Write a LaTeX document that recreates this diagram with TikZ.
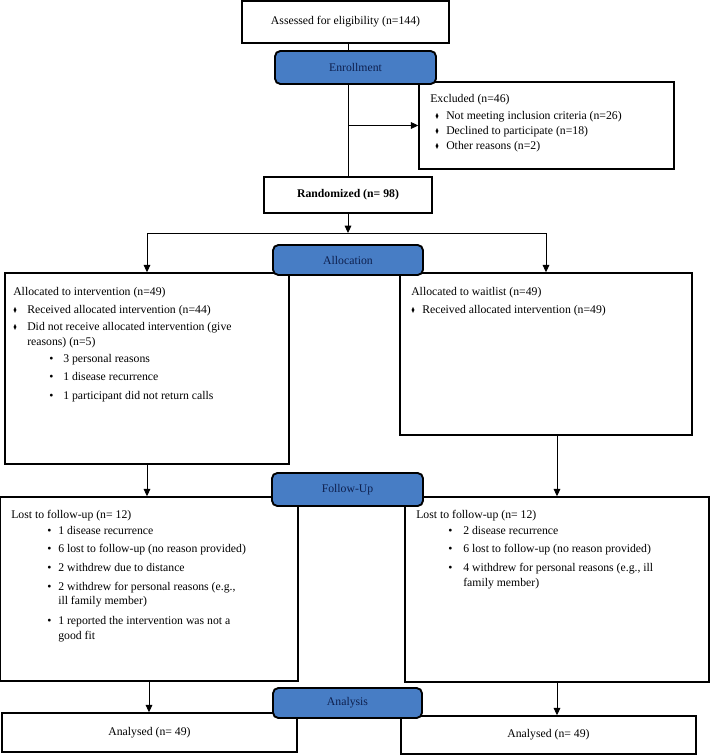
\documentclass[tikz,border=0pt]{standalone}
\usepackage{amssymb}
\usepackage{fontspec}
\setmainfont{Liberation Serif}
\usetikzlibrary{arrows.meta}
\definecolor{stageblue}{RGB}{71,125,197}
\definecolor{stagetext}{RGB}{14,32,78}
\newcommand{\dia}[1][8.25pt]{\makebox[#1][l]{\raisebox{0.6pt}{\scalebox{0.45}[0.6]{$\blacklozenge$}}}}
\newcommand{\bul}[2]{\hspace*{#1}\makebox[#2][l]{\textbullet}}

\begin{document}
\begin{tikzpicture}[x=0.75pt, y=-0.75pt,
    box/.style={draw, line width=1.1pt, inner sep=0pt, font=\fontsize{8.8}{11.25}\selectfont},
    stage/.style={draw, line width=1.4pt, rounded corners=4pt, fill=stageblue, text=stagetext,
                  inner sep=0pt, font=\fontsize{8.8}{11.25}\selectfont},
    txt/.style={anchor=north west, align=left, inner sep=0pt, font=\fontsize{8.8}{11.25}\selectfont},
    link/.style={line width=0.7pt},
    >={Triangle[length=5.5pt,width=5pt]}]
      \useasboundingbox (0,0) rectangle (711,755);

      \node [box, minimum width=155.25pt, minimum height=31.5pt] (assess) at (345.5,22) {Assessed for eligibility (n=144)};
      \node [box, minimum width=191.25pt, minimum height=65.25pt] (excl)   at (546.5,125.5) {};
      \node [box, minimum width=126pt,    minimum height=27pt]    (rand)   at (348,195) {\bfseries Randomized (n= 98)};

      \node [box, minimum width=213pt,    minimum height=143.25pt] (alloc1) at (147,368.5) {};
      \node [box, minimum width=219pt,    minimum height=121.5pt]  (alloc2) at (546,354) {};
      \node [box, minimum width=223.5pt,  minimum height=138pt]    (fu1)    at (149,589) {};
      \node [box, minimum width=228pt,    minimum height=138.75pt] (fu2)    at (557,589.5) {};
      \node [box, minimum width=221.25pt, minimum height=29.25pt]  (an1)    at (149.5,732.5) {Analysed (n= 49)};
      \node [box, minimum width=221.25pt, minimum height=28.5pt]   (an2)    at (548.5,735) {Analysed (n= 49)};

      \node [txt] (excltxt) at (430,94) {Excluded (n=46)\\[1.5pt]
        \hspace*{3.75pt}\dia Not meeting inclusion criteria (n=26)\\
        \hspace*{3.75pt}\dia Declined to participate (n=18)\\
        \hspace*{3.75pt}\dia Other reasons (n=2)};

      \node [txt] (alloc1txt) at (13,287) {Allocated to intervention (n=49)\\[2.25pt]
        \dia[10.5pt]Received allocated intervention (n=44)\\[1.5pt]
        \dia[10.5pt]Did not receive allocated intervention (give\\
        \hspace*{10.5pt}reasons) (n=5)\\[1.5pt]
        \bul{27pt}{10.5pt}3 personal reasons\\[2.25pt]
        \bul{27pt}{10.5pt}1 disease recurrence\\[3pt]
        \bul{27pt}{10.5pt}1 participant did not return calls};

      \node [txt] (alloc2txt) at (411,287) {Allocated to waitlist (n=49)\\[2.25pt]
        \dia Received allocated intervention (n=49)};

      \node [txt] (fu1txt) at (11,510) {Lost to follow-up (n= 12)\\[0.75pt]
        \bul{27pt}{8.25pt}1 disease recurrence\\[2.25pt]
        \bul{27pt}{8.25pt}6 lost to follow-up (no reason provided)\\[3pt]
        \bul{27pt}{8.25pt}2 withdrew due to distance\\[3pt]
        \bul{27pt}{8.25pt}2 withdrew for personal reasons (e.g.,\\[-0.75pt]
        \hspace*{35.25pt}ill family member)\\[3.75pt]
        \bul{27pt}{8.25pt}1 reported the intervention was not a\\
        \hspace*{35.25pt}good fit};

      \node [txt] (fu2txt) at (416,510) {Lost to follow-up (n= 12)\\[0.75pt]
        \bul{24pt}{11.25pt}2 disease recurrence\\[2.25pt]
        \bul{24pt}{11.25pt}6 lost to follow-up (no reason provided)\\[3pt]
        \bul{24pt}{11.25pt}4 withdrew for personal reasons (e.g., ill\\
        \hspace*{35.25pt}family member)};

      \coordinate (split1) at (rand.north |- excl.west);
      \coordinate (split2) at (348,233);
      \draw [link]    (assess.south -| rand.north) -- (rand.north);
      \draw [link,->] (split1) -- (excl.west);
      \draw [link,->] (rand.south) -- (split2);
      \draw [link,->] (split2) -| (alloc1.north);
      \draw [link,->] (split2) -| (alloc2.north);
      \draw [link,->] (alloc1.south) -- (alloc1.south |- fu1.north);
      \draw [link,->] (fu2.north |- alloc2.south) -- (fu2.north);
      \draw [link,->] (fu1.south) -- (fu1.south |- an1.north);
      \draw [link,->] (fu2.south) -- (fu2.south |- an2.north);

      \node [stage, minimum width=120.75pt, minimum height=24.75pt] (enrol)    at (355.5,67.5) {Enrollment};
      \node [stage, minimum width=112.5pt,  minimum height=22.5pt]  (allocst)  at (348,260)    {Allocation};
      \node [stage, minimum width=113.25pt, minimum height=24.75pt] (followst) at (347.5,489.5) {Follow-Up};
      \node [stage, minimum width=111.75pt, minimum height=22.5pt]  (analyst)  at (347.5,703)  {Analysis};
\end{tikzpicture}
\end{document}
